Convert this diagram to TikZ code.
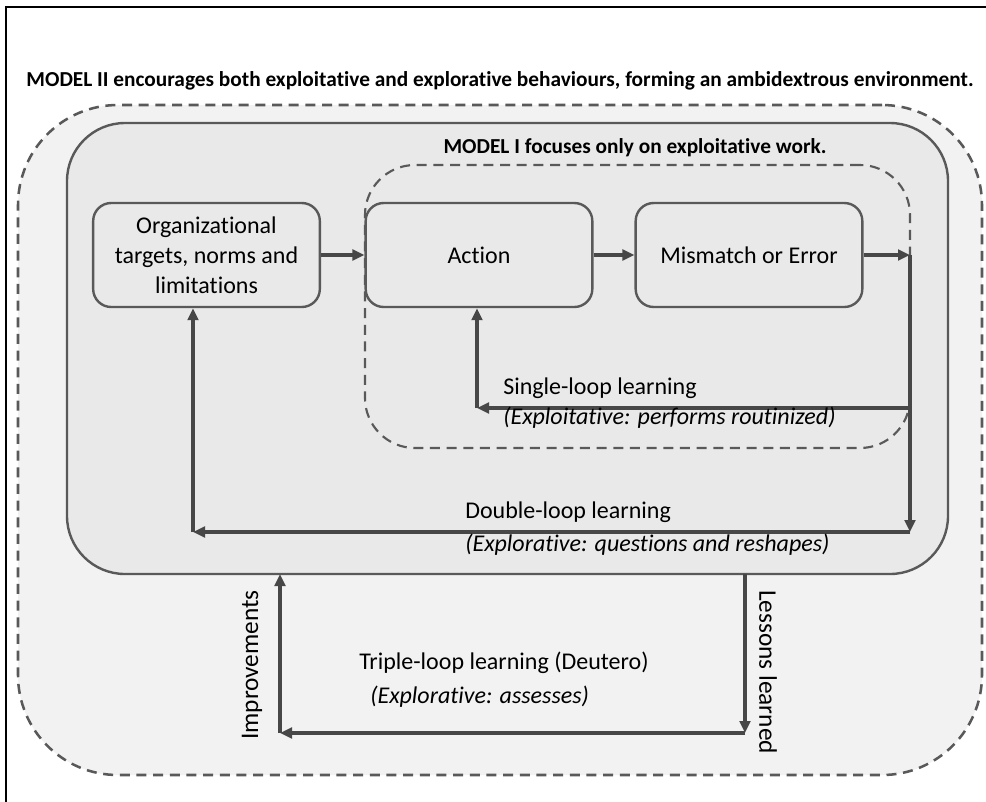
\documentclass[tikz,border=0pt]{standalone}
\usepackage{fontspec}
\setmainfont{Carlito}[Ligatures=NoCommon]
\usetikzlibrary{arrows.meta}
\definecolor{linegray}{HTML}{595959}
\definecolor{arrowgray}{HTML}{474747}
\definecolor{outerfill}{HTML}{F2F2F2}
\definecolor{innerfill}{HTML}{E9E9E9}
\tikzset{
  regionbox/.style={draw=linegray, rounded corners=#1, inner sep=0pt},
  dashline/.style={dash pattern=on 7.5pt off 5pt},
  stepbox/.style={draw=linegray, line width=1.8pt, fill=innerfill, rounded corners=13.5pt,
    minimum width=170pt, minimum height=78pt, align=center, font=\fontsize{18}{22.5}\selectfont, inner sep=0pt},
  flow/.style={draw=arrowgray, line width=3pt, -{Triangle[length=9pt,width=8pt]}},
  lbl/.style={font=\fontsize{18}{22}\selectfont, inner sep=0pt},
  ilbl/.style={font=\fontsize{18}{22}\selectfont\itshape, inner sep=0pt},
  vlbl/.style={font=\fontsize{19}{22}\selectfont, inner sep=0pt},
  head/.style={font=\fontsize{16}{19}\selectfont\bfseries, inner sep=0pt}
}
\begin{document}
\begin{tikzpicture}[x=0.75pt, y=-0.75pt]
\useasboundingbox (0,0) rectangle (986,801);
% page frame
\draw[line width=2.2pt, black] (6,7) rectangle (1000,815);
% heading
\node[head] (title) at (500,81) {MODEL II encourages both exploitative and explorative behaviours, forming an ambidextrous environment.};
% Model II region (dashed), organisation region (solid), Model I region (dashed)
\node[regionbox=75pt, dashline, line width=1.9pt, fill=outerfill,
  minimum width=723pt, minimum height=502.5pt] (model2) at (500,440) {};
\node[regionbox=43.5pt, line width=1.8pt, fill=innerfill,
  minimum width=660.75pt, minimum height=338.25pt] (org) at (507.5,348.5) {};
\node[regionbox=37.5pt, dashline, line width=1.6pt,
  minimum width=408.75pt, minimum height=212.25pt] (model1) at (637.5,306.5) {};
\node[head] (m1title) at (635,148) {MODEL I focuses only on exploitative work.};
% process steps
\node[stepbox] (targets) at (206.5,255) {Organizational\\targets, norms and\\limitations};
\node[stepbox] (action) at (479,255) {Action};
\node[stepbox] (error) at (749,255) {Mismatch or Error};
% loop corners
\coordinate (r1) at (910,255);
\coordinate (s1) at (910,408);
\coordinate (s2) at (477,408);
\coordinate (d1) at (910,532);
\coordinate (d2) at (193,532);
\coordinate (t1) at (745,574);
\coordinate (t2) at (745,733);
\coordinate (t3) at (280,733);
\coordinate (t4) at (280,574);
% main flow
\draw[flow] (targets.east) -- (action.west);
\draw[flow] (action.east) -- (error.west);
\draw[flow] (error.east) -- (r1);
% single loop
\draw[flow] (s1) -- (s2);
\draw[flow] (s2) -- (s2 |- action.south);
% double loop
\draw[flow] (r1) -- (d1);
\draw[flow] (d1) -- (d2);
\draw[flow] (d2) -- (d2 |- targets.south);
% triple loop
\draw[flow] (t1) -- (t2);
\draw[flow] (t2) -- (t3);
\draw[flow] (t3) -- (t4);
% labels
\node[lbl, anchor=west] (sl) at (503,388) {Single-loop learning};
\node[ilbl, anchor=west] (sli) at (503,418) {(Exploitative: performs routinized)};
\node[lbl, anchor=west] (dl) at (465,512) {Double-loop learning};
\node[ilbl, anchor=west] (dli) at (465,545) {(Explorative: questions and reshapes)};
\node[lbl, anchor=west] (tl) at (359,663) {Triple-loop learning (Deutero)};
\node[ilbl, anchor=west] (tli) at (370,697) {(Explorative: assesses)};
\node[vlbl, rotate=90] (impr) at (252,665) {Improvements};
\node[vlbl, rotate=-90] (lessons) at (768,672) {Lessons learned};
\end{tikzpicture}
\end{document}
